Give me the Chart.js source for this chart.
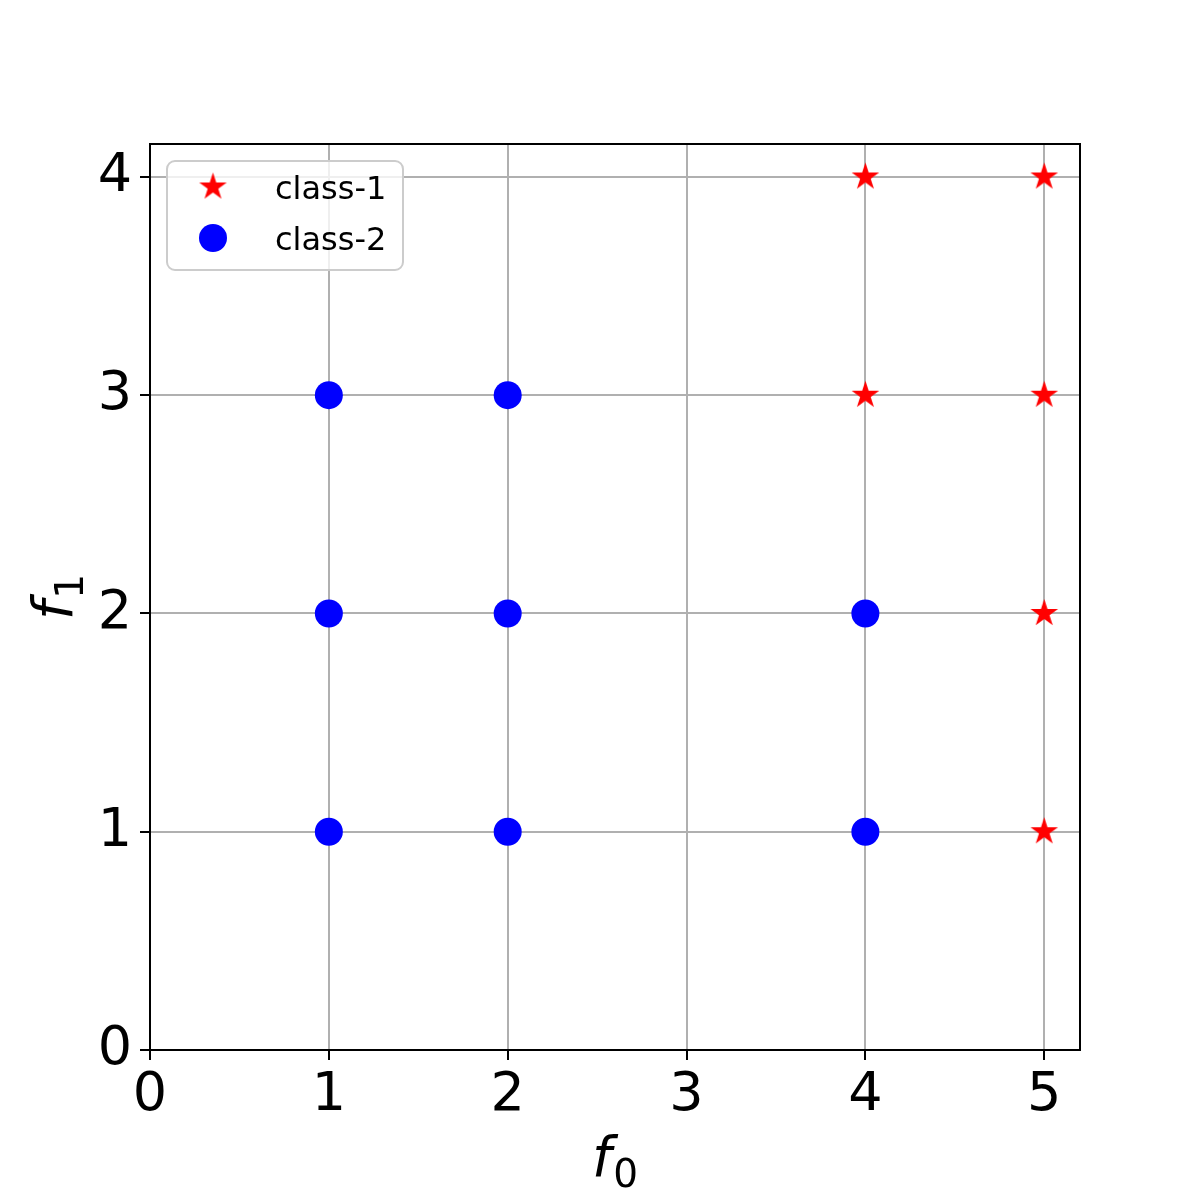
<!DOCTYPE html>
<html>
<head>
<meta charset="utf-8">
<script src="https://cdn.jsdelivr.net/npm/chart.js@4.4.1/dist/chart.umd.min.js"></script>
<style>
  html, body { margin: 0; padding: 0; background: #fff; }
  #wrap { width: 1200px; height: 1200px; }
</style>
</head>
<body>
<div id="wrap"><canvas id="scatterChart" width="1200" height="1200"></canvas></div>
<script>
// data
const seriesNames = ["class-1", "class-2"];
const class1X = [4, 5, 4, 5, 5, 5];
const class1Y = [4, 4, 3, 3, 2, 1];
const class2X = [1, 2, 1, 2, 4, 1, 2, 4];
const class2Y = [3, 3, 2, 2, 2, 1, 1, 1];
const xTicks = [0, 1, 2, 3, 4, 5];
const yTicks = [0, 1, 2, 3, 4];

const FONT = "'DejaVu Sans', sans-serif";

// filled 5-point star marker (like matplotlib '*')
function makeStar(r, color) {
  const c = document.createElement("canvas");
  const size = Math.ceil(r * 2 + 4);
  c.width = size;
  c.height = size;
  const g = c.getContext("2d");
  const cx = size / 2, cy = size / 2;
  g.beginPath();
  for (let i = 0; i < 10; i++) {
    const rad = i % 2 === 0 ? r : r * 0.381966;
    const a = -Math.PI / 2 + (i * Math.PI) / 5;
    const px = cx + rad * Math.cos(a);
    const py = cy + rad * Math.sin(a);
    if (i === 0) g.moveTo(px, py);
    else g.lineTo(px, py);
  }
  g.closePath();
  g.fillStyle = color;
  g.fill();
  return c;
}
const starMarker = makeStar(14.5, "#ff0000");

function toPoints(xs, ys) {
  return xs.map((x, i) => ({ x: x, y: ys[i] }));
}

// label like  f_0  (italic f, upright subscript)
function drawMathLabel(ctx, main, sub, baseline) {
  ctx.save();
  ctx.fillStyle = "#000";
  ctx.textBaseline = "alphabetic";
  ctx.font = "oblique 55px " + FONT;
  const w1 = ctx.measureText(main).width;
  ctx.font = "39px " + FONT;
  const w2 = ctx.measureText(sub).width;
  const start = -(w1 + w2 + 2) / 2;
  ctx.font = "oblique 55px " + FONT;
  ctx.textAlign = "left";
  ctx.fillText(main, start, baseline);
  ctx.font = "39px " + FONT;
  ctx.fillText(sub, start + w1 + 2, baseline + 11);
  ctx.restore();
}

const framePlugin = {
  id: "frame",
  afterDatasetsDraw(chart) {
    const ctx = chart.ctx;
    const a = chart.chartArea;

    // spines
    ctx.save();
    ctx.strokeStyle = "#000";
    ctx.lineWidth = 2;
    ctx.strokeRect(a.left, a.top, a.right - a.left, a.bottom - a.top);
    ctx.restore();

    // legend
    const lx = 167, ly = 161, lw = 236, lh = 109;
    ctx.save();
    ctx.beginPath();
    ctx.roundRect(lx, ly, lw, lh, 8);
    ctx.fillStyle = "rgba(255,255,255,0.8)";
    ctx.fill();
    ctx.strokeStyle = "#cccccc";
    ctx.lineWidth = 2;
    ctx.stroke();

    const rows = [187, 238];
    chart.data.datasets.forEach((ds, i) => {
      const y = rows[i];
      if (ds.pointStyle === "circle") {
        ctx.beginPath();
        ctx.arc(213, y, 14, 0, Math.PI * 2);
        ctx.fillStyle = ds.backgroundColor;
        ctx.fill();
      } else {
        ctx.drawImage(ds.pointStyle, 213 - ds.pointStyle.width / 2, y - ds.pointStyle.height / 2);
      }
      ctx.fillStyle = "#000";
      ctx.font = "32px " + FONT;
      ctx.textAlign = "left";
      ctx.textBaseline = "alphabetic";
      ctx.fillText(ds.label, 275, y + 12);
    });
    ctx.restore();

    // axis titles
    const midX = (a.left + a.right) / 2;
    const midY = (a.top + a.bottom) / 2;
    ctx.save();
    ctx.translate(midX, 0);
    drawMathLabel(ctx, "f", "0", 1176);
    ctx.restore();
    ctx.save();
    ctx.translate(0, midY);
    ctx.rotate(-Math.PI / 2);
    drawMathLabel(ctx, "f", "1", 72);
    ctx.restore();
  },
};

const ctx = document.getElementById("scatterChart");

new Chart(ctx, {
  type: "scatter",
  data: {
    datasets: [
      {
        label: seriesNames[0],
        data: toPoints(class1X, class1Y),
        pointStyle: starMarker,
        backgroundColor: "#ff0000",
        borderWidth: 0,
        pointRadius: 14,
      },
      {
        label: seriesNames[1],
        data: toPoints(class2X, class2Y),
        pointStyle: "circle",
        backgroundColor: "#0000ff",
        borderColor: "#0000ff",
        borderWidth: 0,
        pointRadius: 14,
      },
    ],
  },
  options: {
    responsive: false,
    animation: false,
    devicePixelRatio: 1,
    layout: { padding: { left: 0, right: 120, top: 144, bottom: 0 } },
    plugins: {
      legend: { display: false },
      tooltip: { enabled: false },
    },
    scales: {
      x: {
        type: "linear",
        min: 0,
        max: 5.2,
        afterBuildTicks: (scale) => {
          scale.ticks = xTicks.map((v) => ({ value: v }));
        },
        afterFit: (scale) => {
          scale.height = 150;
        },
        ticks: {
          color: "#000",
          font: { family: FONT, size: 54 },
          padding: 4,
          maxRotation: 0,
          autoSkip: false,
        },
        grid: {
          color: "#b0b0b0",
          lineWidth: 2,
          tickColor: "#000",
          tickLength: 10,
        },
        border: { color: "#000", width: 2 },
      },
      y: {
        type: "linear",
        min: 0,
        max: 4.151,
        afterBuildTicks: (scale) => {
          scale.ticks = yTicks.map((v) => ({ value: v }));
        },
        afterFit: (scale) => {
          scale.width = 150;
        },
        ticks: {
          color: "#000",
          font: { family: FONT, size: 54 },
          padding: 8,
          autoSkip: false,
        },
        grid: {
          color: "#b0b0b0",
          lineWidth: 2,
          tickColor: "#000",
          tickLength: 10,
        },
        border: { color: "#000", width: 2 },
      },
    },
  },
  plugins: [framePlugin],
});
</script>
</body>
</html>
